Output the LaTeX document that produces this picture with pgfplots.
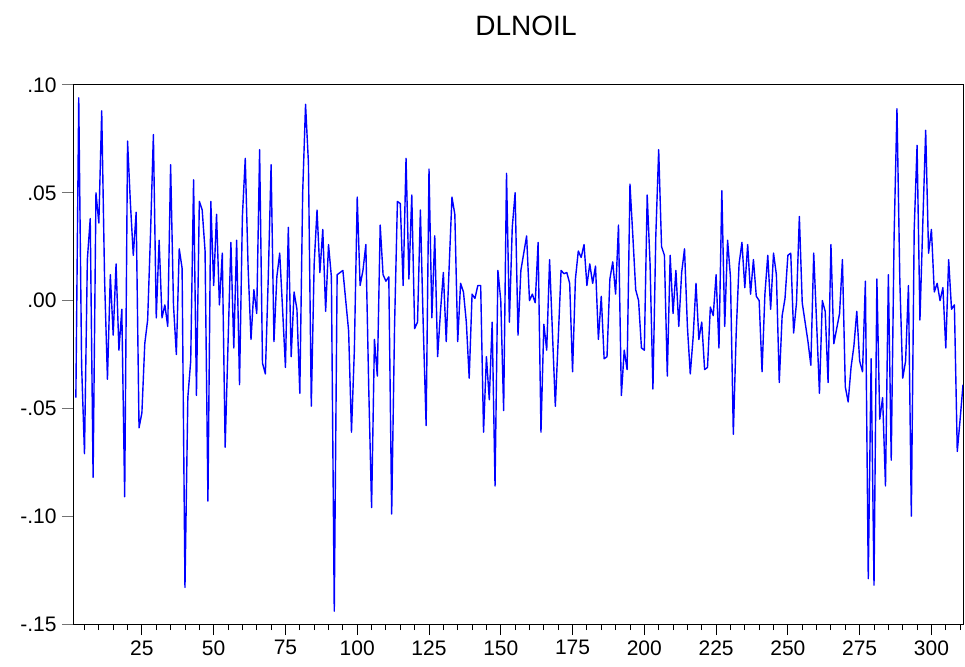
\documentclass[border=0pt]{standalone}
\usepackage{fontspec}
\setmainfont{Liberation Sans}
\usepackage{pgfplots}
\pgfplotsset{compat=1.18}
\usepackage{pgfplotstable}
\pgfplotstableread{
n v
2 -0.045
3 0.094
4 -0.030
5 -0.071
6 0.019
7 0.038
8 -0.082
9 0.050
10 0.036
11 0.088
12 0.010
13 -0.0365
14 0.012
15 -0.016
16 0.017
17 -0.023
18 -0.004
19 -0.091
20 0.074
21 0.045
22 0.021
23 0.041
24 -0.059
25 -0.052
26 -0.020
27 -0.009
28 0.031
29 0.077
30 -0.008
31 0.028
32 -0.008
33 -0.002
34 -0.012
35 0.063
36 -0.002
37 -0.025
38 0.024
39 0.015
40 -0.133
41 -0.045
42 -0.028
43 0.056
44 -0.044
45 0.046
46 0.042
47 0.023
48 -0.093
49 0.046
50 0.007
51 0.040
52 -0.002
53 0.022
54 -0.068
55 -0.020
56 0.027
57 -0.022
58 0.028
59 -0.039
60 0.039
61 0.066
62 0.015
63 -0.018
64 0.005
65 -0.006
66 0.070
67 -0.029
68 -0.034
69 0.010
70 0.063
71 -0.019
72 0.011
73 0.022
74 -0.004
75 -0.031
76 0.034
77 -0.026
78 0.004
79 -0.004
80 -0.043
81 0.050
82 0.091
83 0.064
84 -0.049
85 0.017
86 0.042
87 0.013
88 0.033
89 -0.005
90 0.026
91 0.011
92 -0.144
93 0.012
94 0.013
95 0.014
96 0.000
97 -0.014
98 -0.061
99 -0.023
100 0.048
101 0.007
102 0.014
103 0.026
104 -0.040
105 -0.096
106 -0.018
107 -0.035
108 0.035
109 0.012
110 0.009
111 0.011
112 -0.099
113 -0.012
114 0.046
115 0.045
116 0.007
117 0.066
118 0.010
119 0.049
120 -0.013
121 -0.010
122 0.042
123 -0.012
124 -0.058
125 0.061
126 -0.008
127 0.030
128 -0.026
129 -0.005
130 0.013
131 -0.019
132 0.015
133 0.048
134 0.040
135 -0.019
136 0.008
137 0.004
138 -0.010
139 -0.036
140 0.003
141 0.001
142 0.007
143 0.007
144 -0.061
145 -0.026
146 -0.046
147 -0.010
148 -0.086
149 0.014
150 0.000
151 -0.051
152 0.059
153 -0.010
154 0.034
155 0.050
156 -0.016
157 0.014
158 0.022
159 0.030
160 0.000
161 0.003
162 -0.001
163 0.027
164 -0.061
165 -0.011
166 -0.023
167 0.019
168 -0.015
169 -0.049
170 -0.018
171 0.014
172 0.0125
173 0.013
174 0.008
175 -0.033
176 0.010
177 0.023
178 0.020
179 0.026
180 0.007
181 0.017
182 0.008
183 0.016
184 -0.018
185 0.002
186 -0.027
187 -0.026
188 0.010
189 0.018
190 0.003
191 0.035
192 -0.044
193 -0.023
194 -0.032
195 0.054
196 0.030
197 0.005
198 0.000
199 -0.022
200 -0.023
201 0.049
202 0.017
203 -0.041
204 0.030
205 0.070
206 0.025
207 0.021
208 -0.035
209 0.021
210 -0.006
211 0.014
212 -0.012
213 0.013
214 0.024
215 -0.012
216 -0.034
217 -0.017
218 0.008
219 -0.018
220 -0.010
221 -0.032
222 -0.031
223 -0.003
224 -0.007
225 0.012
226 -0.022
227 0.051
228 -0.012
229 0.028
230 0.011
231 -0.062
232 -0.015
233 0.017
234 0.027
235 0.006
236 0.026
237 0.003
238 0.019
239 0.002
240 0.000
241 -0.033
242 0.003
243 0.021
244 -0.004
245 0.022
246 0.012
247 -0.038
248 -0.007
249 0.001
250 0.021
251 0.022
252 -0.015
253 -0.001
254 0.039
255 -0.001
256 -0.010
257 -0.019
258 -0.030
259 0.022
260 -0.010
261 -0.043
262 0.000
263 -0.005
264 -0.038
265 0.026
266 -0.020
267 -0.013
268 -0.006
269 0.019
270 -0.040
271 -0.047
272 -0.031
273 -0.021
274 -0.005
275 -0.028
276 -0.033
277 0.009
278 -0.129
279 -0.027
280 -0.132
281 0.010
282 -0.055
283 -0.045
284 -0.086
285 0.012
286 -0.074
287 0.030
288 0.089
289 0.009
290 -0.036
291 -0.028
292 0.007
293 -0.100
294 0.033
295 0.072
296 -0.009
297 0.036
298 0.079
299 0.022
300 0.033
301 0.004
302 0.008
303 0.000
304 0.006
305 -0.022
306 0.019
307 -0.004
308 -0.002
309 -0.070
310 -0.055
311 -0.039
}\oil
\begin{document}
\begin{tikzpicture}[x=1pt,y=1pt]
\path[use as bounding box] (0,0) rectangle (965,666);
\begin{axis}[
  at={(73pt,42pt)}, anchor=south west,
  width=890pt, height=539pt, scale only axis,
  xmin=1, xmax=311, ymin=-0.15, ymax=0.10,
  axis line style={line width=1pt, black},
  tick pos=left, tick align=outside,
  xtick={25,50,...,300},
  minor xtick={5,10,...,310},
  ytick={-0.15,-0.10,-0.05,0,0.05,0.10},
  yticklabels={-.15,-.10,-.05,.00,.05,.10},
  major tick length=11pt, minor tick length=6pt,
  xtick style={black, line width=0.9pt},
  minor tick style={black, line width=0.8pt},
  ytick style={black!55, line width=1pt},
  tick label style={font=\fontsize{21}{25}\selectfont},
  /pgf/number format/assume math mode=true,
  xticklabel style={yshift=-2pt},
  yticklabel style={xshift=-2pt},
  clip=true,
]
\addplot[color={rgb,255:red,0;green,0;blue,255}, line width=1.4pt, line join=round] table[x=n,y=v] {\oil};
\end{axis}
\node[font=\fontsize{28}{32}\selectfont, inner sep=0pt] at (526,640) {DLNOIL};
\end{tikzpicture}
\end{document}
